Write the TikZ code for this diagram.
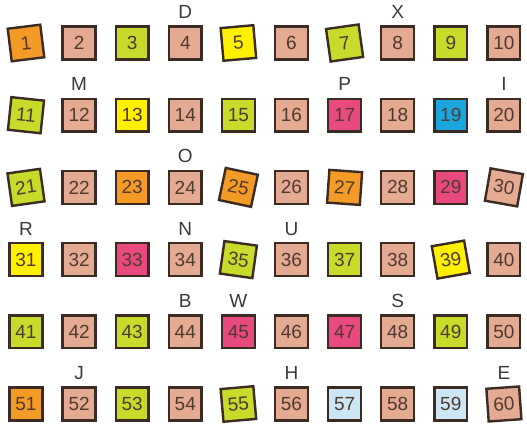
\documentclass[tikz,border=0pt]{standalone}
\usepackage{fontspec}
\setmainfont{Liberation Sans}
\definecolor{casSalmon}{HTML}{E4AA92}
\definecolor{casVerde}{HTML}{C8DA2A}
\definecolor{casNaranja}{HTML}{F49A27}
\definecolor{casAmarillo}{HTML}{FFF000}
\definecolor{casRosa}{HTML}{E84A7F}
\definecolor{casAzul}{HTML}{1CA6DF}
\definecolor{casCeleste}{HTML}{CBE7F5}
\definecolor{casBorde}{HTML}{3B2B22}
\definecolor{casNumero}{HTML}{4F3A30}
\definecolor{casLetra}{HTML}{3A3A3A}
\usetikzlibrary{calc}
\tikzset{
	casilla/.style={
		draw=casBorde,
		line width=1.2pt,
		minimum size=16.4pt,
		inner sep=0pt,
		text=casNumero,
		font=\fontsize{9.5}{10}\selectfont
	},
	etiqueta/.style={
		inner sep=0pt,
		text=casLetra,
		font=\fontsize{9.5}{10}\selectfont
	}
}
\begin{document}
\begin{tikzpicture}[x=0.5pt,y=0.5pt]
		\useasboundingbox (0,0) rectangle (527,428);
		% casillas numeradas: numero/color/giro
		\foreach \n/\c/\a in {
			1/casNaranja/7, 2/casSalmon/0, 3/casVerde/0, 4/casSalmon/0, 5/casAmarillo/5,
			6/casSalmon/0, 7/casVerde/8, 8/casSalmon/0, 9/casVerde/0, 10/casSalmon/0,
			11/casVerde/-6, 12/casSalmon/0, 13/casAmarillo/0, 14/casSalmon/0, 15/casVerde/0,
			16/casSalmon/0, 17/casRosa/0, 18/casSalmon/0, 19/casAzul/0, 20/casSalmon/0,
			21/casVerde/8, 22/casSalmon/0, 23/casNaranja/0, 24/casSalmon/0, 25/casNaranja/-12,
			26/casSalmon/0, 27/casNaranja/-4, 28/casSalmon/0, 29/casRosa/0, 30/casSalmon/-10,
			31/casAmarillo/0, 32/casSalmon/0, 33/casRosa/0, 34/casSalmon/0, 35/casVerde/-8,
			36/casSalmon/0, 37/casVerde/0, 38/casSalmon/0, 39/casAmarillo/10, 40/casSalmon/0,
			41/casVerde/0, 42/casSalmon/0, 43/casVerde/0, 44/casSalmon/0, 45/casRosa/0,
			46/casSalmon/0, 47/casRosa/0, 48/casSalmon/0, 49/casVerde/0, 50/casSalmon/0,
			51/casNaranja/0, 52/casSalmon/0, 53/casVerde/0, 54/casSalmon/0, 55/casVerde/5,
			56/casSalmon/0, 57/casCeleste/0, 58/casSalmon/0, 59/casCeleste/0, 60/casSalmon/4}{
			\pgfmathtruncatemacro\fila{(\n-1)/10}
			\pgfmathtruncatemacro\col{mod(\n-1,10)}
			\node[casilla, fill=\c, rotate=\a] (sq\n) at ({26+53.1*\col},{385-72.2*\fila}) {\n};
		}
		% letras sobre las casillas
		\foreach \n/\l in {4/D, 8/X, 12/M, 17/P, 20/I, 24/O, 31/R, 34/N,
			36/U, 44/B, 45/W, 48/S, 52/J, 56/H, 60/E}{
			\node[etiqueta] (letra\n) at ($(sq\n.center)+(0,31)$) {\l};
		}
	\end{tikzpicture}
\end{document}
